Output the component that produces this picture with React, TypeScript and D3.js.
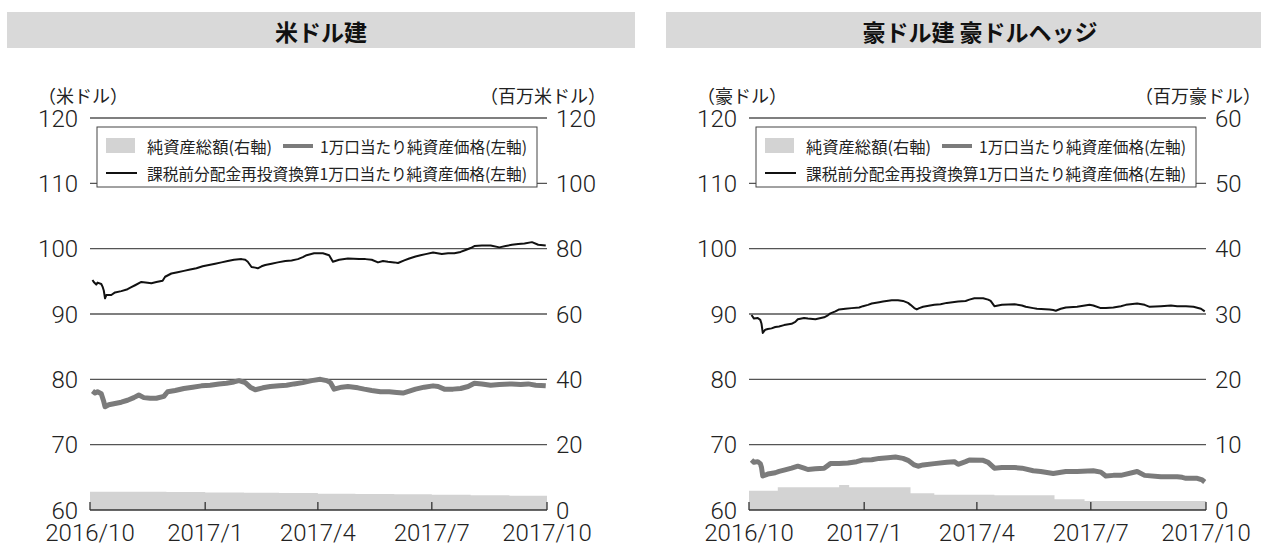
import React from 'react';
import * as d3 from 'd3';

// 純資産総額 (百万) - right axis
const usdAsset: [string, number][] = [
  ['2016-10-01', 5.6], ['2016-11-01', 5.6], ['2016-12-01', 5.5], ['2017-01-01', 5.35],
  ['2017-02-01', 5.3], ['2017-03-01', 5.2], ['2017-04-01', 5.0], ['2017-05-01', 4.9],
  ['2017-06-01', 4.8], ['2017-07-01', 4.65], ['2017-08-01', 4.55], ['2017-09-01', 4.4],
  ['2017-10-01', 4.4],
];

// 1万口当たり純資産価格 - left axis
const usdNav: [string, number][] = [
  ['2016-10-03', 78.2], ['2016-10-05', 77.9], ['2016-10-07', 78.1], ['2016-10-10', 77.8],
  ['2016-10-12', 76.6], ['2016-10-13', 75.8], ['2016-10-16', 76.1], ['2016-10-21', 76.3],
  ['2016-10-26', 76.5], ['2016-10-31', 76.8], ['2016-11-05', 77.2], ['2016-11-09', 77.6],
  ['2016-11-13', 77.2], ['2016-11-18', 77.1], ['2016-11-23', 77.1], ['2016-11-29', 77.4],
  ['2016-12-02', 78.1], ['2016-12-08', 78.3], ['2016-12-15', 78.6], ['2016-12-22', 78.8],
  ['2016-12-29', 79.0], ['2017-01-05', 79.1], ['2017-01-12', 79.3], ['2017-01-18', 79.4],
  ['2017-01-24', 79.6], ['2017-01-28', 79.8], ['2017-02-02', 79.5], ['2017-02-06', 78.8],
  ['2017-02-10', 78.4], ['2017-02-16', 78.7], ['2017-02-22', 78.9], ['2017-03-01', 79.0],
  ['2017-03-07', 79.1], ['2017-03-13', 79.3], ['2017-03-20', 79.5], ['2017-03-27', 79.8],
  ['2017-04-03', 80.0], ['2017-04-08', 79.8], ['2017-04-11', 79.5], ['2017-04-14', 78.5],
  ['2017-04-20', 78.8], ['2017-04-25', 78.9], ['2017-05-03', 78.7], ['2017-05-08', 78.5],
  ['2017-05-14', 78.3], ['2017-05-21', 78.1], ['2017-05-28', 78.1], ['2017-06-03', 78.0],
  ['2017-06-08', 77.9], ['2017-06-13', 78.2], ['2017-06-18', 78.5], ['2017-06-25', 78.8],
  ['2017-07-02', 79.0], ['2017-07-06', 78.9], ['2017-07-11', 78.5], ['2017-07-18', 78.5],
  ['2017-07-24', 78.6], ['2017-07-30', 78.9], ['2017-08-04', 79.4], ['2017-08-10', 79.3],
  ['2017-08-17', 79.1], ['2017-08-24', 79.2], ['2017-09-03', 79.3], ['2017-09-10', 79.2],
  ['2017-09-16', 79.3], ['2017-09-22', 79.1], ['2017-09-30', 79.0],
];

// 課税前分配金再投資換算1万口当たり純資産価格 - left axis
const usdReinv: [string, number][] = [
  ['2016-10-03', 95.2], ['2016-10-04', 94.9], ['2016-10-05', 94.7], ['2016-10-06', 94.5],
  ['2016-10-07', 94.8], ['2016-10-10', 94.6], ['2016-10-11', 94.2], ['2016-10-12', 93.6],
  ['2016-10-13', 92.4], ['2016-10-14', 92.9], ['2016-10-18', 92.9], ['2016-10-21', 93.3],
  ['2016-10-26', 93.5], ['2016-10-31', 93.8], ['2016-11-03', 94.1], ['2016-11-06', 94.4],
  ['2016-11-11', 94.9], ['2016-11-16', 94.8], ['2016-11-19', 94.7], ['2016-11-23', 94.9],
  ['2016-11-28', 95.1], ['2016-11-30', 95.7], ['2016-12-05', 96.2], ['2016-12-10', 96.4],
  ['2016-12-15', 96.6], ['2016-12-20', 96.8], ['2016-12-25', 97.0], ['2016-12-30', 97.3],
  ['2017-01-04', 97.5], ['2017-01-09', 97.7], ['2017-01-14', 97.9], ['2017-01-19', 98.1],
  ['2017-01-24', 98.3], ['2017-01-30', 98.4], ['2017-02-02', 98.3], ['2017-02-04', 98.0],
  ['2017-02-07', 97.2], ['2017-02-10', 97.1], ['2017-02-12', 97.0], ['2017-02-15', 97.3],
  ['2017-02-18', 97.5], ['2017-02-23', 97.7], ['2017-02-28', 97.9], ['2017-03-06', 98.1],
  ['2017-03-11', 98.2], ['2017-03-16', 98.4], ['2017-03-20', 98.7], ['2017-03-23', 99.0],
  ['2017-03-29', 99.3], ['2017-04-05', 99.3], ['2017-04-10', 99.0], ['2017-04-13', 98.0],
  ['2017-04-18', 98.3], ['2017-04-25', 98.5], ['2017-05-04', 98.4], ['2017-05-09', 98.4],
  ['2017-05-14', 98.3], ['2017-05-19', 97.9], ['2017-05-23', 98.1], ['2017-05-27', 98.0],
  ['2017-06-01', 97.9], ['2017-06-04', 97.8], ['2017-06-09', 98.2], ['2017-06-13', 98.5],
  ['2017-06-18', 98.8], ['2017-06-22', 99.0], ['2017-06-27', 99.2], ['2017-07-02', 99.4],
  ['2017-07-09', 99.2], ['2017-07-14', 99.3], ['2017-07-19', 99.3], ['2017-07-24', 99.5],
  ['2017-07-28', 99.8], ['2017-08-01', 100.1], ['2017-08-04', 100.4], ['2017-08-10', 100.5],
  ['2017-08-17', 100.5], ['2017-08-24', 100.2], ['2017-08-29', 100.4], ['2017-09-03', 100.6],
  ['2017-09-08', 100.7], ['2017-09-13', 100.8], ['2017-09-19', 101.0], ['2017-09-24', 100.6],
  ['2017-09-30', 100.5],
];

const audAsset: [string, number][] = [
  ['2016-10-01', 2.95], ['2016-10-24', 3.47], ['2016-12-12', 3.83], ['2016-12-20', 3.47],
  ['2017-02-07', 2.55], ['2017-02-26', 2.35], ['2017-04-15', 2.25], ['2017-06-02', 1.63],
  ['2017-06-26', 1.38], ['2017-10-01', 1.38],
];

const audNav: [string, number][] = [
  ['2016-10-03', 67.65], ['2016-10-05', 67.3], ['2016-10-08', 67.4], ['2016-10-10', 67.1],
  ['2016-10-11', 66.5], ['2016-10-12', 65.2], ['2016-10-16', 65.5], ['2016-10-22', 65.7],
  ['2016-10-25', 65.9], ['2016-10-29', 66.1], ['2016-11-04', 66.4], ['2016-11-09', 66.7],
  ['2016-11-14', 66.4], ['2016-11-17', 66.2], ['2016-11-23', 66.3], ['2016-11-30', 66.4],
  ['2016-12-05', 67.1], ['2016-12-12', 67.1], ['2016-12-19', 67.2], ['2016-12-26', 67.4],
  ['2016-12-31', 67.65], ['2017-01-07', 67.7], ['2017-01-13', 67.9], ['2017-01-20', 68.0],
  ['2017-01-26', 68.1], ['2017-02-01', 67.9], ['2017-02-05', 67.6], ['2017-02-10', 66.9],
  ['2017-02-13', 66.7], ['2017-02-17', 66.9], ['2017-02-26', 67.1], ['2017-03-08', 67.3],
  ['2017-03-14', 67.4], ['2017-03-17', 67.0], ['2017-03-23', 67.4], ['2017-03-26', 67.65],
  ['2017-04-06', 67.6], ['2017-04-10', 67.3], ['2017-04-15', 66.4], ['2017-04-21', 66.5],
  ['2017-05-01', 66.5], ['2017-05-07', 66.4], ['2017-05-16', 66.0], ['2017-05-22', 65.9],
  ['2017-06-01', 65.6], ['2017-06-11', 65.9], ['2017-06-20', 65.9], ['2017-07-03', 66.0],
  ['2017-07-09', 65.8], ['2017-07-13', 65.2], ['2017-07-19', 65.3], ['2017-07-25', 65.3],
  ['2017-08-07', 65.9], ['2017-08-13', 65.3], ['2017-08-26', 65.1], ['2017-09-08', 65.1],
  ['2017-09-12', 65.0], ['2017-09-15', 64.85], ['2017-09-24', 64.85], ['2017-09-28', 64.6],
  ['2017-09-30', 64.3],
];

const audReinv: [string, number][] = [
  ['2016-10-03', 89.85], ['2016-10-05', 89.3], ['2016-10-08', 89.4], ['2016-10-10', 89.1],
  ['2016-10-11', 88.5], ['2016-10-12', 87.1], ['2016-10-14', 87.6], ['2016-10-16', 87.7],
  ['2016-10-19', 87.8], ['2016-10-22', 88.0], ['2016-10-25', 88.1], ['2016-10-29', 88.3],
  ['2016-11-04', 88.5], ['2016-11-07', 88.8], ['2016-11-09', 89.2], ['2016-11-14', 89.4],
  ['2016-11-17', 89.3], ['2016-11-23', 89.2], ['2016-11-30', 89.5], ['2016-12-03', 89.8],
  ['2016-12-05', 90.1], ['2016-12-09', 90.4], ['2016-12-12', 90.7], ['2016-12-17', 90.8],
  ['2016-12-22', 90.9], ['2016-12-28', 91.0], ['2016-12-31', 91.2], ['2017-01-04', 91.4],
  ['2017-01-07', 91.6], ['2017-01-13', 91.8], ['2017-01-16', 91.9], ['2017-01-23', 92.1],
  ['2017-01-28', 92.1], ['2017-02-01', 92.0], ['2017-02-05', 91.7], ['2017-02-07', 91.4],
  ['2017-02-10', 90.9], ['2017-02-12', 90.7], ['2017-02-14', 90.9], ['2017-02-17', 91.1],
  ['2017-02-26', 91.4], ['2017-03-03', 91.5], ['2017-03-08', 91.7], ['2017-03-17', 91.9],
  ['2017-03-23', 92.0], ['2017-03-26', 92.2], ['2017-03-30', 92.4], ['2017-04-06', 92.4],
  ['2017-04-10', 92.2], ['2017-04-12', 92.0], ['2017-04-15', 91.2], ['2017-04-21', 91.4],
  ['2017-05-01', 91.5], ['2017-05-07', 91.3], ['2017-05-10', 91.1], ['2017-05-16', 90.9],
  ['2017-05-19', 90.8], ['2017-05-29', 90.7], ['2017-06-01', 90.6], ['2017-06-03', 90.5],
  ['2017-06-07', 90.8], ['2017-06-11', 91.0], ['2017-06-20', 91.1], ['2017-06-30', 91.4],
  ['2017-07-03', 91.3], ['2017-07-09', 90.9], ['2017-07-13', 90.9], ['2017-07-19', 91.0],
  ['2017-07-25', 91.2], ['2017-07-29', 91.4], ['2017-08-07', 91.6], ['2017-08-13', 91.4],
  ['2017-08-17', 91.1], ['2017-08-26', 91.2], ['2017-09-03', 91.3], ['2017-09-08', 91.2],
  ['2017-09-15', 91.2], ['2017-09-21', 91.1], ['2017-09-27', 90.8], ['2017-09-30', 90.4],
];

const leftTicks = [60, 70, 80, 90, 100, 110, 120];
const usdRightTicks = [0, 20, 40, 60, 80, 100, 120];
const audRightTicks = [0, 10, 20, 30, 40, 50, 60];
const dateTicks = ['2016-10-01', '2017-01-01', '2017-04-01', '2017-07-01', '2017-10-01'];
const dateLabels = ['2016/10', '2017/1', '2017/4', '2017/7', '2017/10'];
const legendLabels = ['純資産総額(右軸)', '1万口当たり純資産価格(左軸)', '課税前分配金再投資換算1万口当たり純資産価格(左軸)'];

const parse = d3.timeParse('%Y-%m-%d');
const NUM_FONT = "'Roboto', 'Liberation Sans', sans-serif";
const JP_FONT = "'Noto Sans CJK JP', sans-serif";
const numStyle = { fontFamily: NUM_FONT, fontWeight: 300, fontSize: 24, fill: '#222' };

type Pt = { date: Date; v: number };
const toPts = (a: [string, number][]): Pt[] => a.map(([d, v]) => ({ date: parse(d) as Date, v }));

const Panel = ({ dx, barX, barW, title, unitL, unitLX, unitR, unitRX, rightMax, rightTicks, asset, nav, reinv }: any) => {
  const x0 = 90 + dx, x1 = 547 + dx;
  const x = d3.scaleTime().domain([parse(dateTicks[0]) as Date, parse(dateTicks[4]) as Date]).range([x0, x1]);
  const y = d3.scaleLinear().domain([60, 120]).range([510, 118]);
  const yR = d3.scaleLinear().domain([0, rightMax]).range([510, 118]);

  const area = d3.area<Pt>().x(d => x(d.date)).y0(yR(0)).y1(d => yR(d.v)).curve(d3.curveStepAfter);
  const line = d3.line<Pt>().x(d => x(d.date)).y(d => y(d.v));

  const lx = 97 + dx;
  return (
    <g>
      <rect x={barX} y={12} width={barW} height={36} fill="#d9d9d9" />
      <text x={barX + 314} y={31} textAnchor="middle" dominantBaseline="central"
        style={{ fontFamily: JP_FONT, fontSize: 23, fontWeight: 700, fill: '#111' }}>{title}</text>

      <text x={unitLX} y={95} dominantBaseline="central" style={{ fontFamily: JP_FONT, fontSize: 18, fill: '#222' }}>{unitL}</text>
      <text x={unitRX} y={95} textAnchor="end" dominantBaseline="central" style={{ fontFamily: JP_FONT, fontSize: 18, fill: '#222' }}>{unitR}</text>

      {/* grid */}
      {leftTicks.slice(1).map(t => (
        <line key={t} x1={x0} x2={x1} y1={y(t)} y2={y(t)} stroke="#555" strokeWidth={1.3} />
      ))}
      {leftTicks.map(t => (
        <text key={'l' + t} x={x0 - 12} y={y(t) + 8.5} textAnchor="end" style={numStyle}>{t}</text>
      ))}
      {rightTicks.map((t: number) => (
        <text key={'r' + t} x={x1 + 9} y={yR(t) + 8.5} style={numStyle}>{t}</text>
      ))}

      <path d={area(toPts(asset)) as string} fill="#d3d3d3" />
      <path d={line(toPts(nav)) as string} fill="none" stroke="#7b7b7b" strokeWidth={5} strokeLinejoin="round" />
      <path d={line(toPts(reinv)) as string} fill="none" stroke="#111" strokeWidth={2} strokeLinejoin="round" />

      {/* x axis */}
      <line x1={x0} x2={x1} y1={510} y2={510} stroke="#333" strokeWidth={1.3} />
      {dateTicks.map((d, i) => (
        <g key={d} transform={`translate(${x(parse(d) as Date)},0)`}>
          <line y1={510} y2={502} stroke="#333" strokeWidth={1.3} />
          <text y={541} textAnchor="middle" style={numStyle}>{dateLabels[i]}</text>
        </g>
      ))}

      {/* legend */}
      <rect x={lx} y={127} width={440} height={60} fill="#fff" stroke="#444" strokeWidth={1} />
      <rect x={lx + 9} y={138} width={29} height={15} fill="#d3d3d3" />
      <text x={lx + 50} y={146} dominantBaseline="central" textLength={125} lengthAdjust="spacingAndGlyphs"
        style={{ fontFamily: JP_FONT, fontSize: 16, fill: '#222' }}>{legendLabels[0]}</text>
      <line x1={lx + 186} x2={lx + 216} y1={146} y2={146} stroke="#7b7b7b" strokeWidth={4} />
      <text x={lx + 223} y={146} dominantBaseline="central" textLength={207} lengthAdjust="spacingAndGlyphs"
        style={{ fontFamily: JP_FONT, fontSize: 16, fill: '#222' }}>{legendLabels[1]}</text>
      <line x1={lx + 9} x2={lx + 40} y1={173} y2={173} stroke="#111" strokeWidth={2} />
      <text x={lx + 50} y={173} dominantBaseline="central" textLength={380} lengthAdjust="spacingAndGlyphs"
        style={{ fontFamily: JP_FONT, fontSize: 16, fill: '#222' }}>{legendLabels[2]}</text>
    </g>
  );
};

export default function App() {
  return (
    <div style={{ position: 'absolute', left: 0, top: 0 }}>
      <svg width={1261} height={544} style={{ display: 'block', background: '#fff' }}>
        <Panel dx={0} barX={7} barW={628} title="米ドル建" unitL="（米ドル）" unitLX={38}
          unitR="（百万米ドル）" unitRX={606} rightMax={120} rightTicks={usdRightTicks}
          asset={usdAsset} nav={usdNav} reinv={usdReinv} />
        <Panel dx={659} barX={666} barW={628} title="豪ドル建 豪ドルヘッジ" unitL="（豪ドル）" unitLX={697}
          unitR="（百万豪ドル）" unitRX={1261} rightMax={60} rightTicks={audRightTicks}
          asset={audAsset} nav={audNav} reinv={audReinv} />
      </svg>
    </div>
  );
}
